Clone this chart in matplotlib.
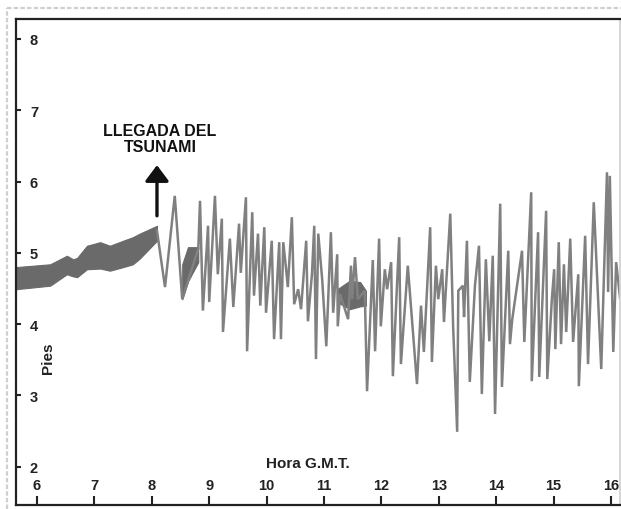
import matplotlib
matplotlib.use("Agg")
import matplotlib.pyplot as plt
import numpy as np

# ---- data (hours GMT, feet) ----
band_x = [5.63, 6.23, 6.52, 6.63, 6.70, 6.87, 7.10, 7.27, 7.50, 7.67, 7.79, 8.09]
band_upper = [4.80, 4.84, 4.96, 4.91, 4.93, 5.10, 5.15, 5.10, 5.17, 5.22, 5.27, 5.38]
band_lower = [4.49, 4.54, 4.70, 4.67, 4.66, 4.77, 4.78, 4.75, 4.80, 4.84, 4.92, 5.17]

band2_x = [8.53, 8.63, 8.81]
band2_upper = [4.84, 5.08, 5.08]
band2_lower = [4.35, 4.60, 4.87]

band3_x = [11.23, 11.45, 11.63, 11.73]
band3_upper = [4.49, 4.61, 4.59, 4.47]
band3_lower = [4.31, 4.21, 4.25, 4.26]

hours = [8.09, 8.23, 8.40, 8.53, 8.81, 8.84, 8.89, 8.98, 9.00, 9.10, 9.15, 9.22,
         9.24, 9.36, 9.42, 9.52, 9.55, 9.64, 9.66, 9.75, 9.78, 9.85, 9.89, 9.96,
         9.99, 10.09, 10.13, 10.22, 10.25, 10.29, 10.34, 10.37, 10.44, 10.48,
         10.55, 10.60, 10.69, 10.72, 10.79, 10.83, 10.86, 10.90, 10.97, 11.04,
         11.12, 11.16, 11.23, 11.24, 11.28, 11.42, 11.47, 11.49, 11.54, 11.59,
         11.71, 11.75, 11.85, 11.89, 11.96, 11.99, 12.06, 12.10, 12.17, 12.20,
         12.31, 12.34, 12.46, 12.62, 12.69, 12.74, 12.85, 12.88, 12.95, 12.99,
         13.06, 13.09, 13.20, 13.25, 13.32, 13.34, 13.42, 13.44, 13.49, 13.54,
         13.63, 13.70, 13.75, 13.82, 13.88, 13.94, 13.98, 14.07, 14.10, 14.21,
         14.24, 14.28, 14.45, 14.49, 14.61, 14.62, 14.73, 14.75, 14.87, 14.89,
         14.97, 15.01, 15.03, 15.09, 15.13, 15.18, 15.22, 15.29, 15.34, 15.43,
         15.44, 15.55, 15.60, 15.70, 15.83, 15.93, 15.95, 15.98, 16.04, 16.09,
         16.16, 16.19]
feet = [5.31, 4.52, 5.80, 4.35, 5.06, 5.73, 4.19, 5.38, 4.31, 5.80, 4.70, 5.48,
        3.89, 5.20, 4.24, 5.41, 4.72, 5.78, 3.62, 5.57, 4.40, 5.27, 4.26, 5.36,
        4.16, 5.17, 3.79, 5.15, 3.79, 5.15, 4.77, 4.52, 5.50, 4.28,
        4.49, 4.21, 5.17, 4.04, 4.70, 5.38, 3.51, 5.27, 4.61, 3.69,
        5.29, 4.16, 4.98, 3.97, 4.42, 4.07, 4.82, 4.35, 4.94, 4.35,
        4.47, 3.06, 4.90, 3.62, 5.20, 3.97, 4.77, 4.49, 4.87, 3.27,
        5.22, 3.44, 4.82, 3.16, 4.26, 3.61, 5.36, 3.47, 4.82, 4.35,
        4.77, 4.03, 5.55, 3.96, 2.49, 4.47, 4.54, 4.10, 5.17, 3.19,
        4.54, 5.10, 3.02, 4.91, 3.76, 4.96, 2.74, 5.69, 3.12, 5.03,
        3.72, 4.07, 5.03, 3.75, 5.85, 3.20, 5.29, 3.26, 5.59, 3.23,
        4.35, 4.77, 3.65, 5.15, 3.72, 4.84, 3.89, 5.20, 3.75, 4.70,
        3.13, 5.24, 3.44, 5.71, 3.37, 6.13, 4.45, 6.08, 3.61, 4.87,
        4.35, 4.63]

x_ticks = [6, 7, 8, 9, 10, 11, 12, 13, 14, 15, 16]
y_ticks = [2, 3, 4, 5, 6, 7, 8]

annot_text = "LLEGADA DEL\nTSUNAMI"
x_label = "Hora G.M.T."
y_label = "Pies"

# ---- figure ----
W, H = 621, 510
fig = plt.figure(figsize=(W / 100, H / 100), dpi=100)
plt.rcParams['font.family'] = ['Liberation Sans', 'DejaVu Sans']
plt.rcParams['font.weight'] = 'bold'

# outer light frame
fig.add_artist(plt.Line2D([7 / W, 7 / W], [0, 1 - 9 / H], color='#cfcfcf', lw=1.6, ls=(0, (2, 1)),
                          transform=fig.transFigure))
fig.add_artist(plt.Line2D([7 / W, 1], [1 - 9 / H, 1 - 9 / H], color='#cfcfcf', lw=1.6, ls=(0, (2, 1)),
                          transform=fig.transFigure))

ax = fig.add_axes([16 / W, 1 - 506 / H, (620 - 16) / W, (506 - 20) / H])
ax.set_xlim(5.634, 16.157)
ax.set_ylim(1.464, 8.28)

line_c = '#808080'
fill_c = '#6a6a6a'
ax.fill_between(band_x, band_lower, band_upper, color=fill_c, lw=0.8, ec=fill_c)
ax.fill_between(band2_x, band2_lower, band2_upper, color=fill_c, lw=0.8, ec=fill_c)
ax.fill_between(band3_x, band3_lower, band3_upper, color=fill_c, lw=0.8, ec=fill_c)
ax.plot(hours, feet, color=line_c, lw=1.8, solid_joinstyle='miter')

for s in ['left', 'top', 'bottom']:
    ax.spines[s].set_color('#222222')
    ax.spines[s].set_linewidth(1.6)
ax.spines['right'].set_color('#d0d0d0')
ax.spines['right'].set_linewidth(1.2)

ax.set_xticks(x_ticks)
ax.set_xticklabels([str(v) for v in x_ticks], fontsize=10.5, fontweight='bold', va='bottom')
ax.set_yticks(y_ticks)
ax.set_yticklabels([str(v) for v in y_ticks], fontsize=10.5, fontweight='bold', ha='left')
ax.tick_params(axis='x', direction='in', length=6.5, width=1.5, pad=-9, colors='#222222')
ax.tick_params(axis='y', direction='in', length=3.5, width=1.5, pad=-10, colors='#222222')

# labels
fig.text(48 / W, 1 - 358 / H, y_label, rotation=90, ha='center', va='center',
         fontsize=11, fontweight='bold', color='#222222')
fig.text(308 / W, 1 - 468 / H, x_label, ha='center', va='baseline',
         fontsize=11, fontweight='bold', color='#222222')

ax.text(8.143, 6.60, annot_text, ha='center', va='center', fontsize=11.5,
        fontweight='bold', color='#111111', linespacing=1.05)
ax.annotate('', xy=(8.09, 6.23), xytext=(8.09, 5.52),
            arrowprops=dict(arrowstyle='-|>,head_length=0.8,head_width=0.6',
                            mutation_scale=12, lw=2.4, color='#111111',
                            shrinkA=0, shrinkB=0))

fig.savefig('out.png', dpi=100)
